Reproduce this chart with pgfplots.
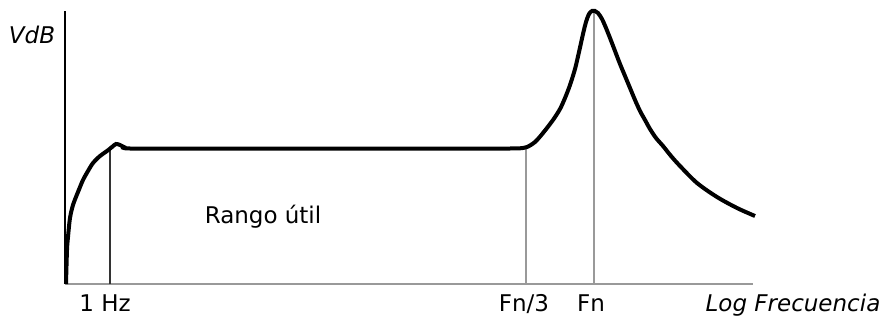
\documentclass[border=0pt]{standalone}
\usepackage{pgfplots}
\pgfplotsset{compat=1.18}
\usepackage{fontspec}
\setmainfont{DejaVu Sans}
\begin{document}
\begin{tikzpicture}
\begin{axis}[
  scale only axis,
  width=345pt, height=136.5pt,
  xmin=65, xmax=755, ymin=0, ymax=273,
  axis lines=none,
  clip=false,
  font=\fontsize{11.5}{13}\selectfont,
]
% axes
\addplot[black, line width=0.9pt] coordinates {(65,0) (65,273)};
\addplot[gray!80, line width=0.8pt] coordinates {(65,0) (753,0)};
% guide lines
\addplot[black!80, line width=0.6pt] coordinates {(110,0) (110,137)};
\addplot[gray!80, line width=0.6pt] coordinates {(526,0) (526,136)};
\addplot[gray!80, line width=0.6pt] coordinates {(594,0) (594,272)};
% response curve
\addplot[black, line width=2pt, smooth, tension=0.5] coordinates {
(66,0) (67,34) (68,47) (70,66) (73,79) (78,92) (83,104) (88,113) (93,121)
(100,128) (107,133) (112,137) (116,140) (120,139) (124,137) (130,135.5)
(200,135.5) (300,135.5) (400,135.5) (510,135.5) (520,135.7) (527,137)
(535,142) (543,151) (553,164) (560,175) (565,186) (570,199) (575,215)
(579,232) (583,250) (586,262) (589,270) (592,273) (595,273)
(598,271) (602,265) (606,256) (610,246) (615,233) (620,220) (625,208)
(630,196) (635,184) (640,173) (645,164) (650,155) (656,146)
(663,138) (671,128) (680,118) (697,101) (717,87) (737,76) (755,68)
};
% labels
\node[anchor=base, font=\fontsize{11.5}{13}\selectfont\itshape] at (axis cs:32,240) {VdB};
\node[anchor=base] at (axis cs:105,-27) {1 Hz};
\node[anchor=base] at (axis cs:524,-27) {Fn/3};
\node[anchor=base] at (axis cs:591,-27) {Fn};
\node[anchor=base, font=\fontsize{11.5}{13}\selectfont\itshape] at (axis cs:793,-27) {Log Frecuencia};
\node[anchor=base] at (axis cs:263,61) {Rango útil};
\coordinate (bl) at (axis cs:0,-38);
\coordinate (tr) at (axis cs:882,284);
\end{axis}
\pgfresetboundingbox
\useasboundingbox (bl) rectangle (tr);
\end{tikzpicture}
\end{document}
